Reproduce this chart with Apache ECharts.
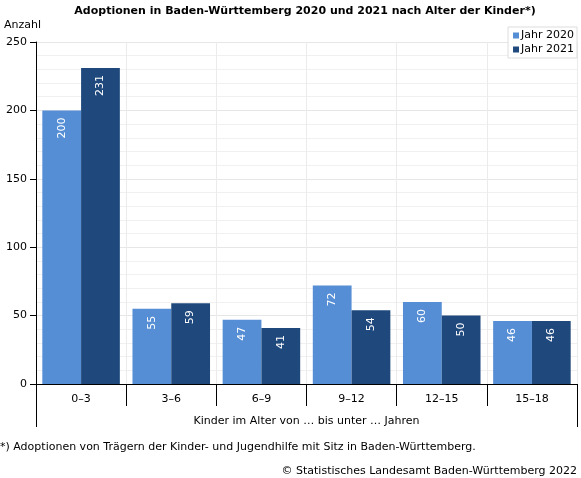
<!DOCTYPE html>
<html>
<head>
<meta charset="utf-8">
<script src="https://cdn.jsdelivr.net/npm/echarts@6/dist/echarts.min.js"></script>
<style>
html,body{margin:0;padding:0;background:#fff;}
#c{width:581px;height:478px;}
</style>
</head>
<body>
<div id="c"></div>
<script>
const categories = ['0–3', '3–6', '6–9', '9–12', '12–15', '15–18'];
const jahr2020 = [200, 55, 47, 72, 60, 46];
const jahr2021 = [231, 59, 41, 54, 50, 46];
const seriesNames = ['Jahr 2020', 'Jahr 2021'];
const yTicks = [0, 50, 100, 150, 200, 250];

const FONT = 'DejaVu Sans';
const chart = echarts.init(document.getElementById('c'), null, {renderer: 'canvas'});

const labelCfg = {
  show: true,
  position: 'insideTop',
  rotate: 90,
  align: 'right',
  verticalAlign: 'middle',
  distance: 7,
  color: '#fff',
  fontFamily: FONT,
  fontSize: 11
};

chart.setOption({
  animation: false,
  textStyle: {fontFamily: FONT},
  title: [
    {
      text: 'Adoptionen in Baden-Württemberg 2020 und 2021 nach Alter der Kinder*)',
      left: 305, top: 6, textAlign: 'center', padding: 0,
      textStyle: {fontFamily: FONT, fontSize: 11, fontWeight: 'bold', color: '#000'}
    },
    {
      text: 'Anzahl', left: 4, top: 20, padding: 0,
      textStyle: {fontFamily: FONT, fontSize: 11, fontWeight: 'normal', color: '#000'}
    },
    {
      text: '*) Adoptionen von Trägern der Kinder- und Jugendhilfe mit Sitz in Baden-Württemberg.',
      left: 0, top: 442, padding: 0,
      textStyle: {fontFamily: FONT, fontSize: 11, fontWeight: 'normal', color: '#000'}
    },
    {
      text: '© Statistisches Landesamt Baden-Württemberg 2022',
      right: 4, top: 466, padding: 0,
      textStyle: {fontFamily: FONT, fontSize: 11, fontWeight: 'normal', color: '#000'}
    }
  ],
  legend: {
    orient: 'vertical',
    right: 4, top: 27,
    data: seriesNames,
    icon: 'rect',
    itemWidth: 6, itemHeight: 6, itemGap: 3,
    padding: [3, 3, 3, 5],
    borderColor: '#dddddd', borderWidth: 1,
    backgroundColor: '#fff',
    textStyle: {fontFamily: FONT, fontSize: 11, color: '#000', padding: [0, 0, 0, -3]}
  },
  grid: {left: 36, right: 4, top: 42, bottom: 94},
  xAxis: [
    {
      type: 'category',
      data: categories,
      axisLine: {lineStyle: {color: '#000', width: 1}},
      axisTick: {show: true, length: 22, lineStyle: {color: '#000'}},
      axisLabel: {color: '#000', fontFamily: FONT, fontSize: 11, margin: 10},
      splitLine: {show: true, lineStyle: {color: '#ebebeb'}},
      name: 'Kinder im Alter von … bis unter … Jahren',
      nameLocation: 'middle', nameGap: 32,
      nameTextStyle: {color: '#000', fontFamily: FONT, fontSize: 11}
    },
    {
      type: 'category',
      data: [''],
      position: 'bottom',
      axisLine: {show: false},
      axisTick: {show: true, length: 43, lineStyle: {color: '#000'}},
      axisLabel: {show: false},
      splitLine: {show: false}
    }
  ],
  yAxis: {
    type: 'value',
    min: 0, max: 250, interval: 50,
    axisLine: {show: true, lineStyle: {color: '#000'}},
    axisTick: {show: true, length: 6, lineStyle: {color: '#000'}},
    axisLabel: {color: '#000', fontFamily: FONT, fontSize: 11, margin: 9,
      formatter: v => yTicks.includes(v) ? String(v) : ''},
    splitLine: {show: true, lineStyle: {color: '#e6e6e6'}},
    minorTick: {show: false, splitNumber: 5},
    minorSplitLine: {show: true, lineStyle: {color: '#f0f0f0'}}
  },
  series: [
    {
      name: seriesNames[0], type: 'bar', data: jahr2020,
      itemStyle: {color: '#558ed5'},
      barGap: '0%', barCategoryGap: '14%',
      label: labelCfg
    },
    {
      name: seriesNames[1], type: 'bar', data: jahr2021,
      itemStyle: {color: '#1f497d'},
      label: labelCfg
    }
  ]
});
</script>
</body>
</html>
